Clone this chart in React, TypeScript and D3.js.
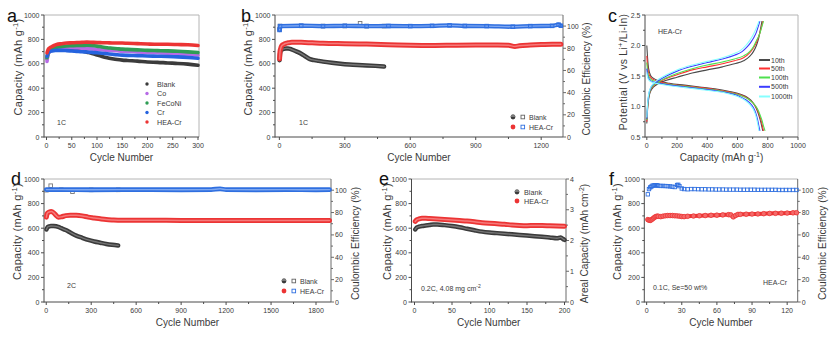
import * as d3 from "d3";
import React from "react";

const FONT = "'Liberation Sans', Arial, Helvetica, sans-serif";
const AXIS = "#4a4a4a";
const EDGE = "#b4b4b4";
const INK = "#3a3a3a";

const BLACK = "#3b3b3b";
const PURPLE = "#b76ae6";
const GREEN = "#2f9d55";
const BLUE = "#2563df";
const RED = "#ec3434";
const CE_BLUE = "#2f6fe0";

// ---- a: 1C, five cathodes
const aCycles = [1, 3, 6, 10, 15, 20, 30, 40, 50, 60, 70, 80, 90, 100, 110, 120, 130, 140, 150, 160, 180, 200, 220, 240, 260, 280, 300];
const aBlank = [640, 680, 700, 710, 715, 718, 720, 720, 718, 712, 705, 695, 685, 672, 660, 650, 642, 635, 630, 627, 622, 615, 612, 607, 603, 597, 588];
const aCo = [620, 680, 700, 712, 720, 725, 730, 732, 732, 730, 728, 725, 722, 718, 715, 712, 710, 707, 704, 702, 698, 694, 690, 686, 682, 678, 672];
const aFeCoNi = [650, 690, 710, 720, 728, 735, 742, 746, 748, 750, 750, 752, 750, 745, 738, 732, 728, 724, 720, 718, 714, 710, 708, 706, 703, 698, 692];
const aCr = [660, 690, 700, 705, 708, 710, 710, 708, 705, 702, 699, 697, 694, 690, 686, 682, 678, 674, 671, 669, 667, 664, 662, 660, 657, 652, 645];
const aHEA = [690, 715, 730, 740, 750, 758, 765, 770, 772, 774, 776, 778, 776, 774, 773, 772, 771, 770, 770, 768, 765, 762, 760, 760, 758, 756, 750];
const aNames = ["Blank", "Co", "FeCoNi", "Cr", "HEA-Cr"];
const aXTicks = [0, 50, 100, 150, 200, 250, 300];

// ---- b: 1C long cycling
const bBlankCycles = [1, 3, 6, 10, 20, 30, 40, 50, 60, 80, 100, 120, 140, 160, 180, 200, 240, 280, 320, 360, 400, 440, 480];
const bBlank = [630, 680, 705, 715, 722, 726, 726, 722, 715, 700, 683, 660, 638, 630, 624, 618, 608, 600, 594, 590, 587, 583, 578];
const bHEACycles = [1, 3, 6, 10, 20, 30, 40, 50, 60, 80, 100, 150, 200, 300, 400, 500, 600, 700, 800, 900, 1000, 1050, 1080, 1100, 1150, 1200, 1250, 1290];
const bHEA = [640, 700, 725, 745, 760, 768, 772, 775, 776, 777, 776, 772, 768, 765, 762, 757, 752, 750, 752, 754, 755, 752, 742, 748, 754, 758, 760, 760];
const bCeBlankCycles = [1, 3, 100, 200, 300, 370, 400, 480];
const bCeBlank = [97, 100, 100.2, 100, 100.1, 102.5, 100, 100];
const bCeHEACycles = [1, 3, 100, 200, 300, 400, 500, 600, 700, 780, 850, 950, 1070, 1150, 1250, 1280, 1290];
const bCeHEA = [96.5, 100, 100.3, 100, 100.2, 100, 100.1, 100, 100.2, 100.6, 100.1, 100, 99.4, 100, 100.2, 101.3, 100.3];
const bXTicks = [0, 300, 600, 900, 1200];

// ---- c: voltage profiles of HEA-Cr
const cLabels = ["10th", "50th", "100th", "500th", "1000th"];
const cColors = ["#4a4a4a", "#ff3030", "#4fe04f", "#3c3cff", "#86ffff"];
const cDisCap = [
  [0, 5, 12, 25, 45, 80, 150, 250, 350, 450, 540, 620, 670, 700, 722, 738, 750, 760, 767],
  [0, 5, 12, 25, 45, 80, 150, 250, 350, 450, 540, 620, 670, 702, 725, 742, 755, 765, 772],
  [0, 5, 12, 25, 45, 80, 150, 250, 350, 450, 540, 620, 672, 705, 730, 748, 762, 773, 782],
  [0, 5, 12, 25, 45, 80, 150, 250, 350, 450, 540, 610, 655, 688, 710, 725, 735, 742, 748],
  [0, 5, 12, 25, 45, 80, 150, 250, 350, 450, 540, 605, 650, 682, 705, 720, 730, 737, 742],
];
const cDisV = [
  [2.0, 1.8, 1.62, 1.51, 1.46, 1.42, 1.38, 1.35, 1.32, 1.29, 1.25, 1.2, 1.14, 1.07, 0.98, 0.88, 0.78, 0.68, 0.6],
  [1.83, 1.66, 1.55, 1.48, 1.44, 1.41, 1.37, 1.34, 1.31, 1.28, 1.24, 1.19, 1.13, 1.06, 0.98, 0.88, 0.78, 0.68, 0.6],
  [1.72, 1.58, 1.5, 1.45, 1.42, 1.39, 1.36, 1.33, 1.3, 1.27, 1.23, 1.18, 1.12, 1.05, 0.97, 0.87, 0.77, 0.67, 0.6],
  [1.62, 1.52, 1.46, 1.42, 1.4, 1.38, 1.35, 1.32, 1.29, 1.26, 1.22, 1.17, 1.11, 1.04, 0.96, 0.86, 0.76, 0.67, 0.6],
  [1.56, 1.48, 1.44, 1.41, 1.39, 1.37, 1.34, 1.31, 1.28, 1.25, 1.21, 1.16, 1.1, 1.03, 0.95, 0.86, 0.76, 0.67, 0.6],
];
const cChgCap = [
  [0, 5, 12, 25, 45, 80, 130, 200, 300, 400, 500, 580, 640, 680, 705, 725, 740, 752, 762],
  [0, 5, 12, 25, 45, 80, 130, 200, 300, 400, 500, 580, 640, 680, 705, 725, 742, 756, 768],
  [0, 5, 12, 25, 45, 80, 130, 200, 300, 400, 500, 580, 640, 680, 705, 725, 745, 760, 772],
  [0, 5, 12, 25, 45, 80, 130, 200, 300, 400, 500, 580, 630, 665, 690, 710, 725, 737, 748],
  [0, 5, 12, 25, 45, 80, 130, 200, 300, 400, 500, 570, 620, 655, 680, 700, 716, 730, 742],
];
const cChgV = [
  [0.72, 0.95, 1.12, 1.25, 1.32, 1.38, 1.43, 1.48, 1.55, 1.6, 1.65, 1.7, 1.75, 1.82, 1.9, 2.0, 2.12, 2.27, 2.4],
  [0.75, 0.98, 1.15, 1.27, 1.34, 1.4, 1.46, 1.52, 1.6, 1.65, 1.7, 1.75, 1.8, 1.88, 1.96, 2.05, 2.16, 2.28, 2.4],
  [0.78, 1.0, 1.16, 1.28, 1.35, 1.41, 1.47, 1.54, 1.62, 1.68, 1.73, 1.78, 1.83, 1.9, 1.98, 2.08, 2.18, 2.3, 2.4],
  [0.8, 1.02, 1.18, 1.3, 1.37, 1.43, 1.5, 1.58, 1.66, 1.72, 1.78, 1.84, 1.9, 1.98, 2.06, 2.14, 2.22, 2.31, 2.4],
  [0.82, 1.04, 1.2, 1.31, 1.38, 1.45, 1.52, 1.6, 1.68, 1.74, 1.8, 1.86, 1.92, 2.0, 2.08, 2.16, 2.24, 2.32, 2.4],
];
const cLegendY = [60, 68.5, 77.5, 86.8, 96.5];
const cXTicks = [0, 200, 400, 600, 800, 1000];
const cYTicks = [0.5, 1.0, 1.5, 2.0, 2.5];

// ---- d: 2C long cycling
const dBlankCycles = [1, 5, 10, 20, 30, 50, 80, 100, 130, 160, 200, 240, 280, 320, 360, 400, 440, 480];
const dBlank = [590, 600, 610, 615, 618, 617, 610, 600, 585, 565, 540, 522, 505, 492, 482, 472, 465, 460];
const dHEACycles = [1, 5, 10, 20, 33, 50, 65, 80, 100, 130, 160, 200, 240, 280, 320, 360, 400, 450, 500, 600, 800, 1000, 1200, 1400, 1600, 1800, 1890];
const dHEA = [690, 715, 725, 732, 735, 725, 705, 690, 692, 702, 706, 705, 700, 690, 683, 676, 670, 667, 665, 664, 664, 663, 663, 663, 662, 663, 663];
const dCeBlankCycles = [1, 30, 100, 175, 300, 480];
const dCeBlank = [100, 104, 100.4, 98.6, 100.3, 100.3];
const dCeHEACycles = [1, 100, 300, 500, 700, 900, 1100, 1160, 1200, 1400, 1600, 1800, 1890];
const dCeHEA = [100.5, 100.5, 100.4, 100.5, 100.5, 100.4, 100.5, 101.2, 100.5, 100.4, 100.5, 100.4, 100.5];
const dXTicks = [0, 300, 600, 900, 1200, 1500, 1800];

// ---- e: 0.2C, high loading
const eBlankCycles = [1, 3, 6, 10, 15, 20, 25, 30, 40, 50, 60, 70, 80, 90, 100, 110, 120, 130, 140, 150, 160, 170, 180, 190, 195, 198, 200];
const eBlank = [590, 605, 612, 618, 622, 626, 630, 630, 625, 618, 608, 595, 583, 572, 565, 560, 555, 550, 545, 540, 535, 530, 525, 518, 525, 512, 505];
const eHEACycles = [1, 3, 6, 10, 15, 20, 30, 40, 50, 60, 70, 80, 90, 100, 110, 120, 130, 140, 150, 160, 170, 180, 190, 200];
const eHEA = [655, 668, 675, 680, 680, 678, 674, 670, 666, 662, 658, 652, 645, 640, 636, 632, 626, 622, 620, 622, 622, 620, 618, 616];
const eXTicks = [0, 50, 100, 150, 200];
const eY2Ticks = [0, 1, 2, 3, 4];

// ---- f: 0.1C, Se = 50 wt%
const fCapCycles = [1, 2, 3, 4, 5, 6, 7, 8, 9, 10, 12, 14, 16, 18, 20, 22, 24, 26, 28, 30, 32, 35, 40, 45, 50, 55, 60, 65, 70, 72, 74, 76, 78, 80, 85, 90, 95, 100, 105, 110, 115, 120, 125, 128];
const fCap = [670, 665, 663, 668, 675, 683, 690, 695, 698, 697, 694, 698, 701, 703, 703, 703, 701, 700, 698, 695, 694, 697, 699, 701, 703, 705, 706, 708, 710, 708, 692, 703, 712, 713, 714, 715, 716, 718, 720, 721, 722, 723, 725, 726];
const fCeCycles = [1, 2, 3, 4, 5, 6, 7, 8, 9, 10, 12, 14, 16, 18, 20, 22, 24, 26, 27, 28, 30, 32, 35, 38, 41, 44, 47, 50, 53, 56, 59, 62, 65, 68, 71, 74, 77, 80, 83, 86, 89, 92, 95, 98, 101, 104, 107, 110, 113, 116, 119, 122, 125, 128];
const fCe = [96.3, 101, 102.5, 103.2, 104, 104.2, 104.4, 104.5, 104.3, 104, 103.8, 103.8, 103.7, 103.6, 103.4, 103.1, 102.8, 104.6, 104.8, 103.6, 101.5, 101, 100.8, 101, 101, 100.9, 100.8, 100.8, 100.7, 100.7, 100.6, 100.6, 100.6, 100.5, 100.5, 100.5, 100.5, 100.4, 100.4, 100.4, 100.4, 100.4, 100.3, 100.3, 100.3, 100.3, 100.3, 100.3, 100.2, 100.2, 100.2, 100.2, 100.2, 100.2];
const fXTicks = [0, 30, 60, 90, 120];

const capTicks = [0, 200, 400, 600, 800, 1000];
const ceTicks = [0, 20, 40, 60, 80, 100];

type Lin = d3.ScaleLinear<number, number>;

function Band({ xs, ys, x, y, color, inner, width = 4 }: { xs: number[]; ys: number[]; x: Lin; y: Lin; color: string; inner?: string; width?: number }) {
  const line = d3
    .line<number>()
    .x((_, i) => x(xs[i]))
    .y((v) => y(v))
    .curve(d3.curveMonotoneX);
  const d = line(ys) ?? "";
  return (
    <g fill="none" strokeLinecap="round" strokeLinejoin="round">
      <path d={d} stroke={color} strokeWidth={width} />
      {inner && <path d={d} stroke={inner} strokeWidth={width * 0.3} />}
    </g>
  );
}

function Squares({ xs, ys, x, y, color, size = 3.6 }: { xs: number[]; ys: number[]; x: Lin; y: Lin; color: string; size?: number }) {
  return (
    <g fill="none" stroke={color} strokeWidth={0.9}>
      {ys.map((v, i) => (
        <rect key={i} x={x(xs[i]) - size / 2} y={y(v) - size / 2} width={size} height={size} />
      ))}
    </g>
  );
}

function Dots({ xs, ys, x, y, color, fill, r = 2.4 }: { xs: number[]; ys: number[]; x: Lin; y: Lin; color: string; fill: string; r?: number }) {
  return (
    <g fill={fill} stroke={color} strokeWidth={0.8}>
      {ys.map((v, i) => (
        <circle key={i} cx={x(xs[i])} cy={y(v)} r={r} />
      ))}
    </g>
  );
}

function Frame({
  x, y, y2, xTicks, yTicks, y2Ticks, fmt = String, xTitle, yTitle, y2Title, yTitleX, y2TitleX, yTitleShift = -9, yTitleSize = 11,
}: {
  x: Lin; y: Lin; y2?: Lin; xTicks: number[]; yTicks: number[]; y2Ticks?: number[]; fmt?: (v: number) => string;
  xTitle: React.ReactNode; yTitle: React.ReactNode; y2Title?: React.ReactNode; yTitleX: number; y2TitleX?: number;
  yTitleShift?: number; yTitleSize?: number;
}) {
  const [L, R] = x.range();
  const [B, T] = y.range();
  const mids = (t: number[]) => t.slice(1).map((v, i) => (v + t[i]) / 2);
  const mid = (T + B) / 2;
  return (
    <g fontFamily={FONT} fill={INK}>
      <line x1={L} x2={R} y1={T} y2={T} stroke={EDGE} strokeWidth={1} />
      <line x1={R} x2={R} y1={T} y2={B} stroke={y2 ? "#6a6a6a" : EDGE} strokeWidth={1} />
      <line x1={L} x2={L} y1={T} y2={B + 0.5} stroke={AXIS} strokeWidth={1} />
      <line x1={L} x2={R} y1={B} y2={B} stroke={AXIS} strokeWidth={1} />
      {xTicks.map((t) => (
        <g key={t}>
          <line x1={x(t)} x2={x(t)} y1={B} y2={B + 3} stroke={AXIS} />
          <text x={x(t)} y={B + 11} fontSize={7} textAnchor="middle">{t}</text>
        </g>
      ))}
      {mids(xTicks).map((t) => (
        <line key={t} x1={x(t)} x2={x(t)} y1={B} y2={B + 2} stroke={AXIS} />
      ))}
      {yTicks.map((t) => (
        <g key={t}>
          <line x1={L - 3} x2={L} y1={y(t)} y2={y(t)} stroke={AXIS} />
          <text x={L - 4.5} y={y(t) + 2.5} fontSize={7} textAnchor="end">{fmt(t)}</text>
        </g>
      ))}
      {mids(yTicks).map((t) => (
        <line key={t} x1={L - 2} x2={L} y1={y(t)} y2={y(t)} stroke={AXIS} />
      ))}
      {y2 && y2Ticks && (
        <g>
          {y2Ticks.map((t) => (
            <g key={t}>
              <line x1={R} x2={R + 3} y1={y2(t)} y2={y2(t)} stroke="#6a6a6a" />
              <text x={R + 4} y={y2(t) + 2.5} fontSize={7}>{t}</text>
            </g>
          ))}
          {mids(y2Ticks).map((t) => (
            <line key={t} x1={R} x2={R + 2} y1={y2(t)} y2={y2(t)} stroke="#6a6a6a" />
          ))}
        </g>
      )}
      <text x={(L + R) / 2} y={B + 24} fontSize={10} textAnchor="middle">{xTitle}</text>
      <text transform={`translate(${yTitleX + 3.7},${mid + yTitleShift}) rotate(-90)`} fontSize={yTitleSize} letterSpacing={0.3} textAnchor="middle">{yTitle}</text>
      {y2Title && y2TitleX !== undefined && (
        <text transform={`translate(${y2TitleX + 3.5},${mid + 3}) rotate(-90)`} fontSize={10.2} textAnchor="middle">{y2Title}</text>
      )}
    </g>
  );
}

const capTitle = (
  <>
    Capacity (mAh g<tspan dy={-4} fontSize={7.5}>-1</tspan><tspan dy={4}>)</tspan>
  </>
);
const ceTitle = "Coulombic Efficiency (%)";

function Letter({ x, y, t }: { x: number; y: number; t: string }) {
  return (
    <text x={x} y={y} fontSize={18} fontFamily={FONT} fill="#111">{t}</text>
  );
}

function Note({ x, y, children, anchor = "start" }: { x: number; y: number; children: React.ReactNode; anchor?: string }) {
  return (
    <text x={x} y={y} fontSize={7} fontFamily={FONT} fill={INK} textAnchor={anchor}>{children}</text>
  );
}

function BlankMark({ cx, cy }: { cx: number; cy: number }) {
  return (
    <g>
      <circle cx={cx} cy={cy} r={2.4} fill="#3a3a3a" />
      <path d={`M${cx - 2.4},${cy} A2.4,2.4 0 0 1 ${cx + 2.4},${cy} Z`} fill="#7a7a7a" />
    </g>
  );
}

function PairLegend({ x, y }: { x: number; y: number }) {
  return (
    <g fontFamily={FONT}>
      <BlankMark cx={x} cy={y} />
      <rect x={x + 8} y={y - 1.8} width={3.6} height={3.6} fill="none" stroke="#666" strokeWidth={0.9} />
      <text x={x + 16} y={y + 2.5} fontSize={7} fill={INK}>Blank</text>
      <circle cx={x} cy={y + 10} r={2.4} fill={RED} />
      <rect x={x + 8} y={y + 8.2} width={3.6} height={3.6} fill="none" stroke={CE_BLUE} strokeWidth={0.9} />
      <text x={x + 16} y={y + 12.5} fontSize={7} fill={INK}>HEA-Cr</text>
    </g>
  );
}

export default function App() {
  const topT = 15, topB = 137, botT = 179, botB = 302;

  const ax = d3.scaleLinear().domain([-5, 302]).range([44, 199]);
  const ay = d3.scaleLinear().domain([0, 1000]).range([topB, topT]);

  const bx = d3.scaleLinear().domain([-20, 1300]).range([275, 563]);
  const by = d3.scaleLinear().domain([0, 1000]).range([topB, topT]);
  const by2 = d3.scaleLinear().domain([0, 110]).range([topB, topT]);

  const cx = d3.scaleLinear().domain([-12, 1000]).range([645, 798]);
  const cy = d3.scaleLinear().domain([0.5, 2.5]).range([topB, topT]);

  const dx = d3.scaleLinear().domain([-15, 1900]).range([44, 331]);
  const dy = d3.scaleLinear().domain([0, 1000]).range([botB, botT]);
  const dy2 = d3.scaleLinear().domain([0, 110]).range([botB, botT]);

  const ex = d3.scaleLinear().domain([-4, 202]).range([411.5, 566]);
  const ey = d3.scaleLinear().domain([0, 1000]).range([botB, botT]);
  const ey2 = d3.scaleLinear().domain([0, 4]).range([botB, botT]);

  const fx = d3.scaleLinear().domain([-2, 129]).range([644.3, 797.7]);
  const fy = d3.scaleLinear().domain([0, 1000]).range([botB, botT]);
  const fy2 = d3.scaleLinear().domain([0, 110]).range([botB, botT]);

  const aSeries = [aBlank, aCo, aFeCoNi, aCr, aHEA];
  const aColors = [BLACK, PURPLE, GREEN, BLUE, RED];

  const profile = d3
    .line<[number, number]>()
    .x((p) => cx(p[0]))
    .y((p) => cy(p[1]))
    .curve(d3.curveMonotoneX);

  return (
    <svg width={836} height={338} style={{ position: "absolute", left: 0, top: 0, background: "#fff" }}>
      {/* a */}
      <Letter x={7} y={22} t="a" />
      <Frame x={ax} y={ay} xTicks={aXTicks} yTicks={capTicks} xTitle="Cycle Number" yTitle={capTitle} yTitleX={18} />
      {aSeries.map((s, i) => (
        <Band key={aNames[i]} xs={aCycles} ys={s} x={ax} y={ay} color={aColors[i]} width={3.6} />
      ))}
      <g fontFamily={FONT}>
        {aNames.map((n, i) => (
          <g key={n}>
            <circle cx={147} cy={84 + i * 9.5} r={1.7} fill={aColors[i]} />
            <text x={157} y={86.5 + i * 9.5} fontSize={7.2} fill={INK}>{n}</text>
          </g>
        ))}
      </g>
      <Note x={57} y={125}>1C</Note>

      {/* b */}
      <Letter x={241} y={22} t="b" />
      <Frame
        x={bx} y={by} y2={by2} xTicks={bXTicks} yTicks={capTicks} y2Ticks={ceTicks}
        xTitle="Cycle Number" yTitle={capTitle} y2Title={ceTitle} yTitleX={248} y2TitleX={586.5}
      />
      <Squares xs={bCeBlankCycles} ys={bCeBlank} x={bx} y={by2} color="#777" />
      <Band xs={bCeHEACycles} ys={bCeHEA} x={bx} y={by2} color={CE_BLUE} inner="#7fa8f0" width={4.3} />
      <Squares xs={bCeHEACycles} ys={bCeHEA} x={bx} y={by2} color={CE_BLUE} />
      <Band xs={bBlankCycles} ys={bBlank} x={bx} y={by} color={BLACK} inner="#777" width={4.5} />
      <Band xs={bHEACycles} ys={bHEA} x={bx} y={by} color={RED} inner="#f57b7b" width={5} />
      <Note x={299} y={125}>1C</Note>
      <PairLegend x={513} y={117} />

      {/* c */}
      <Letter x={608} y={22} t="c" />
      <Frame
        x={cx} y={cy} xTicks={cXTicks} yTicks={cYTicks} fmt={d3.format(".1f")}
        xTitle={<>Capacity (mAh g<tspan dy={-4} fontSize={7}>-1</tspan><tspan dy={4}>)</tspan></>}
        yTitle={<>Potential (V vs Li<tspan dy={-4} fontSize={7.5}>+</tspan><tspan dy={4}>/Li-In)</tspan></>}
        yTitleX={623} yTitleShift={-4} yTitleSize={10.4}
      />
      {cLabels.map((lab, i) => (
        <g key={lab} fill="none" stroke={cColors[i]} strokeWidth={1.1}>
          <path d={profile(cDisCap[i].map((c, j) => [c, cDisV[i][j]] as [number, number])) ?? ""} />
          <path d={profile(cChgCap[i].map((c, j) => [c, cChgV[i][j]] as [number, number])) ?? ""} />
        </g>
      ))}
      <Note x={658} y={34}>HEA-Cr</Note>
      <g fontFamily={FONT}>
        {cLabels.map((lab, i) => (
          <g key={lab}>
            <line x1={759} x2={770} y1={cLegendY[i]} y2={cLegendY[i]} stroke={cColors[i]} strokeWidth={2} />
            <text x={771} y={cLegendY[i] + 2.5} fontSize={7} fill={INK}>{lab}</text>
          </g>
        ))}
      </g>

      {/* d */}
      <Letter x={11} y={185} t="d" />
      <Frame
        x={dx} y={dy} y2={dy2} xTicks={dXTicks} yTicks={capTicks} y2Ticks={ceTicks}
        xTitle="Cycle Number" yTitle={capTitle} y2Title={ceTitle} yTitleX={17} y2TitleX={355}
      />
      <Squares xs={dCeBlankCycles} ys={dCeBlank} x={dx} y={dy2} color="#777" />
      <Band xs={dCeHEACycles} ys={dCeHEA} x={dx} y={dy2} color={CE_BLUE} inner="#7fa8f0" width={4.8} />
      <Band xs={dBlankCycles} ys={dBlank} x={dx} y={dy} color={BLACK} inner="#777" width={4.5} />
      <Band xs={dHEACycles} ys={dHEA} x={dx} y={dy} color={RED} inner="#f57b7b" width={5} />
      <Note x={67} y={288}>2C</Note>
      <PairLegend x={284} y={281} />

      {/* e */}
      <Letter x={379} y={185} t="e" />
      <Frame
        x={ex} y={ey} y2={ey2} xTicks={eXTicks} yTicks={capTicks} y2Ticks={eY2Ticks}
        xTitle="Cycle Number" yTitle={capTitle}
        y2Title={<>Areal Capacity (mAh cm<tspan dy={-4} fontSize={7}>-2</tspan><tspan dy={4}>)</tspan></>}
        yTitleX={387} y2TitleX={584}
      />
      <Band xs={eBlankCycles} ys={eBlank} x={ex} y={ey} color={BLACK} inner="#777" width={4.5} />
      <Band xs={eHEACycles} ys={eHEA} x={ex} y={ey} color={RED} inner="#f57b7b" width={5} />
      <g fontFamily={FONT}>
        <BlankMark cx={517} cy={192} />
        <text x={524} y={194.5} fontSize={7.2} fill={INK}>Blank</text>
        <circle cx={517} cy={201} r={2.4} fill={RED} />
        <text x={524} y={203.5} fontSize={7.2} fill={INK}>HEA-Cr</text>
      </g>
      <Note x={421} y={291}>
        0.2C, 4.08 mg cm<tspan dy={-3} fontSize={5}>-2</tspan>
      </Note>

      {/* f */}
      <Letter x={609} y={185} t="f" />
      <Frame
        x={fx} y={fy} y2={fy2} xTicks={fXTicks} yTicks={capTicks} y2Ticks={ceTicks}
        xTitle="Cycle Number" yTitle={capTitle} y2Title={ceTitle} yTitleX={617} y2TitleX={822}
      />
      <Squares xs={fCeCycles} ys={fCe} x={fx} y={fy2} color={CE_BLUE} size={3.4} />
      <Band xs={fCapCycles} ys={fCap} x={fx} y={fy} color={RED} width={4} />
      <Dots xs={fCapCycles} ys={fCap} x={fx} y={fy} color={RED} fill="#f46a6a" r={2.3} />
      <Note x={653} y={290}>0.1C, Se=50 wt%</Note>
      <Note x={763} y={285}>HEA-Cr</Note>
    </svg>
  );
}
